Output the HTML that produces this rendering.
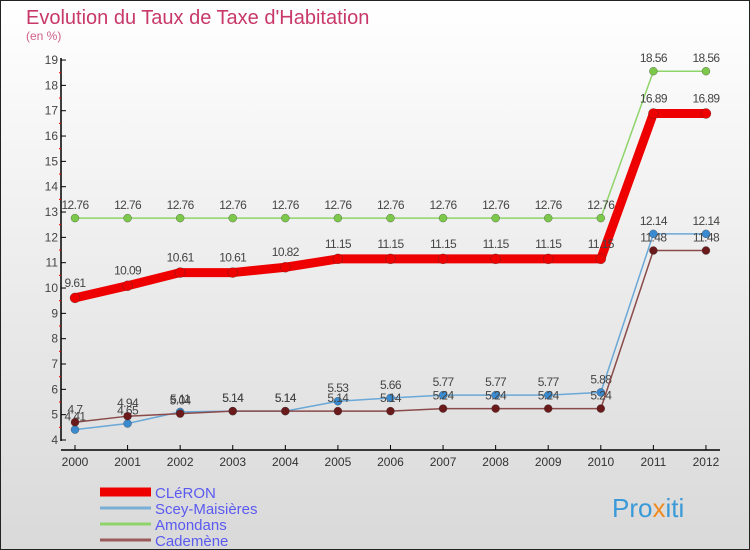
<!DOCTYPE html>
<html><head><meta charset="utf-8"><style>
body{margin:0}
#c{width:750px;height:550px;position:relative;box-sizing:border-box;border:1px solid #222;background:linear-gradient(#fff,#d9d9d9);font-family:"Liberation Sans",sans-serif;overflow:hidden}
</style></head><body>
<div id="c">
<svg id="s" width="750" height="550" style="position:absolute;left:-1px;top:-1px">
<text x="26" y="24" font-size="20" fill="#c8386a">Evolution du Taux de Taxe d'Habitation</text>
<text x="26" y="40" font-size="12" fill="#d06088">(en %)</text>
<g id="g"></g>
<text x="612" y="517" font-size="26" fill="#3a9ad8">Pro<tspan fill="#f08a20">x</tspan>iti</text>
</svg>
</div>
<script>
const years=["2000","2001","2002","2003","2004","2005","2006","2007","2008","2009","2010","2011","2012"];
const cleron=[9.61,10.09,10.61,10.61,10.82,11.15,11.15,11.15,11.15,11.15,11.15,16.89,16.89];
const scey=[4.41,4.65,5.11,5.14,5.14,5.53,5.66,5.77,5.77,5.77,5.88,12.14,12.14];
const amondans=[12.76,12.76,12.76,12.76,12.76,12.76,12.76,12.76,12.76,12.76,12.76,18.56,18.56];
const cademene=[4.7,4.94,5.04,5.14,5.14,5.14,5.14,5.24,5.24,5.24,5.24,11.48,11.48];
const yTicks=[4,5,6,7,8,9,10,11,12,13,14,15,16,17,18,19];
const NS="http://www.w3.org/2000/svg",g=document.getElementById('g');
const X=i=>75+i*52.58, Y=v=>440-(v-4)*25.33;
function mk(t,a,p){const e=document.createElementNS(NS,t);for(const k in a)e.setAttribute(k,a[k]);(p||g).appendChild(e);return e;}
let ax=mk('line',{x1:61,y1:58,x2:61,y2:441,stroke:'#000','stroke-width':1.5});

let xa=mk('line',{x1:61,y1:450,x2:720,y2:450,stroke:'#000','stroke-width':1.5});

yTicks.forEach(v=>{mk('line',{x1:61,y1:Y(v),x2:66,y2:Y(v),stroke:'#000'});
 if(v<19)mk('line',{x1:59,y1:Y(v+0.5),x2:61,y2:Y(v+0.5),stroke:'#e00'});
 const t=mk('text',{x:58,y:Y(v)+4,'font-size':12,fill:'#444','text-anchor':'end'});t.textContent=v;
 });
years.forEach((y,i)=>{mk('line',{x1:X(i),y1:450,x2:X(i),y2:445,stroke:'#000'});
 const t=mk('text',{x:X(i),y:466,'font-size':12,fill:'#333','text-anchor':'middle'});t.textContent=y;
 });
function series(d,col,w,r,name,dot,off){
 const p=mk('polyline',{points:d.map((v,i)=>X(i)+','+Y(v)).join(' '),fill:'none',stroke:col,'stroke-width':w,'stroke-linejoin':'round'});
 
 d.forEach((v,i)=>{const c=mk('circle',{cx:X(i),cy:Y(v),r:r,fill:dot,stroke:'#333','stroke-width':0.3});
  
  const t=mk('text',{x:X(i),y:Y(v)-off,'font-size':12,fill:'#444','text-anchor':'middle','letter-spacing':'-0.6'});t.textContent=v;
  });
}
series(amondans,'#8fd46a',1.5,4,'amondans','#7cc84a',9);
series(cleron,'#ee0000',9,5,'cleron','#ee0000',11);
series(scey,'#6aa8d8',1.5,4,'scey','#3a8ad0',9);
series(cademene,'#8a4a4a',1.5,4,'cademene','#6a1a1a',9);
const leg=[["CLéRON","#ee0000",9],["Scey-Maisières","#7aaed6",3],["Amondans","#8fd46a",3],["Cademène","#9a5a5a",3]];
leg.forEach((l,i)=>{const y=492+i*16;
 const ln=mk('line',{x1:100,y1:y,x2:151,y2:y,stroke:l[1],'stroke-width':l[2]});
 
 const t=mk('text',{x:155,y:y+6,'font-size':15,fill:'#5a5af0'});t.textContent=l[0];
 });
</script>
</body></html>
